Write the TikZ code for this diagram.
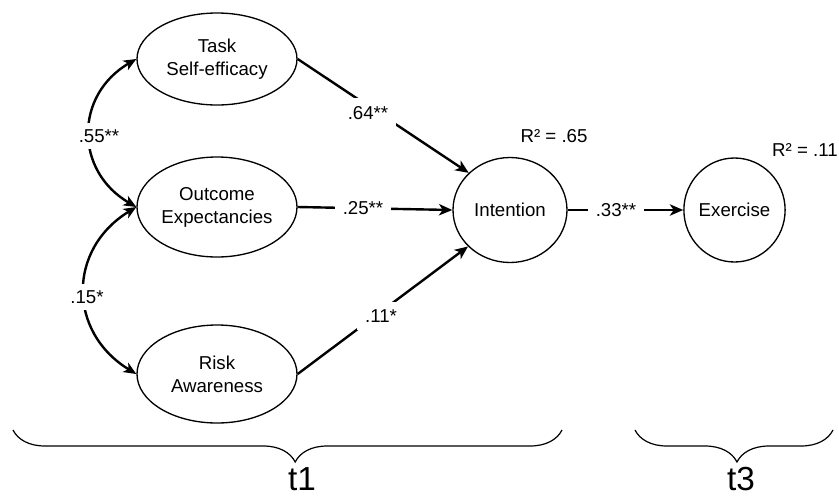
\documentclass[tikz,border=0pt]{standalone}
\usepackage{fontspec}
\setmainfont{Liberation Sans}
\usetikzlibrary{arrows.meta,decorations.pathreplacing,shapes.geometric}
\begin{document}
\begin{tikzpicture}[x=0.75pt,y=-0.75pt,
  lat/.style={ellipse, draw, line width=1pt, inner sep=0pt, align=center,
    font=\fontsize{14}{17.2}\selectfont},
  arr/.style={line width=1.8pt, -{Stealth[length=10pt,width=8.5pt,inset=2.8pt]}},
  cov/.style={line width=1.8pt, {Stealth[length=9.5pt,width=8pt,inset=2.6pt]}-{Stealth[length=9.5pt,width=8pt,inset=2.6pt]}},
  coef/.style={fill=white, inner xsep=6pt, inner ysep=2pt, font=\fontsize{14}{17}\selectfont},
  rsq/.style={inner sep=1pt, font=\fontsize{14}{17}\selectfont},
  period/.style={inner sep=0pt, font=\fontsize{25}{28}\selectfont},
  brc/.style={line width=0.9pt, decorate, decoration={brace, mirror, amplitude=24pt, aspect=0.514}}
]
\useasboundingbox (0,0) rectangle (839,497);
\node[lat, minimum width=120pt, minimum height=69pt] (task) at (217,59) {Task\\Self-efficacy};
\node[lat, minimum width=120pt, minimum height=75pt] (outcome) at (217,207) {Outcome\\Expectancies};
\node[lat, minimum width=120pt, minimum height=73.5pt] (risk) at (217,374) {Risk\\Awareness};
\node[lat, minimum width=85.5pt, minimum height=78.75pt] (intention) at (510,210) {Intention};
\node[lat, minimum width=74.25pt, minimum height=78pt] (exercise) at (734.5,210) {Exercise};

\draw[arr] (task.east) -- (intention.138);
\draw[arr] (outcome.east) -- (intention.west);
\draw[arr] (risk.east) -- (intention.221);
\draw[arr] (intention.east) -- (exercise.west);

\draw[cov] (task.west) .. controls +(-62,36) and +(-62,-36) .. (outcome.west);
\draw[cov] (outcome.west) .. controls +(-69,42) and +(-69,-42) .. (risk.west);

\node[coef, inner ysep=6pt] (b1) at (368,113) {.64**};
\node[coef] (b2) at (363,208) {.25**};
\node[coef, inner ysep=6pt] (b3) at (381,316) {.11*};
\node[coef] (b4) at (616,210) {.33**};
\node[coef, inner ysep=5pt] (c1) at (99,136) {.55**};
\node[coef, inner ysep=5pt] (c2) at (87,297) {.15*};

\node[rsq] (r1) at (554,136) {R² = .65};
\node[rsq] (r2) at (805,150) {R² = .11};

\draw[brc] (13,430) -- (562,430);
\draw[brc, decoration={aspect=0.515}] (635,430) -- (833,430);
\node[period] (t1) at (302,479) {t1};
\node[period] (t3) at (741,479) {t3};
\end{tikzpicture}
\end{document}
